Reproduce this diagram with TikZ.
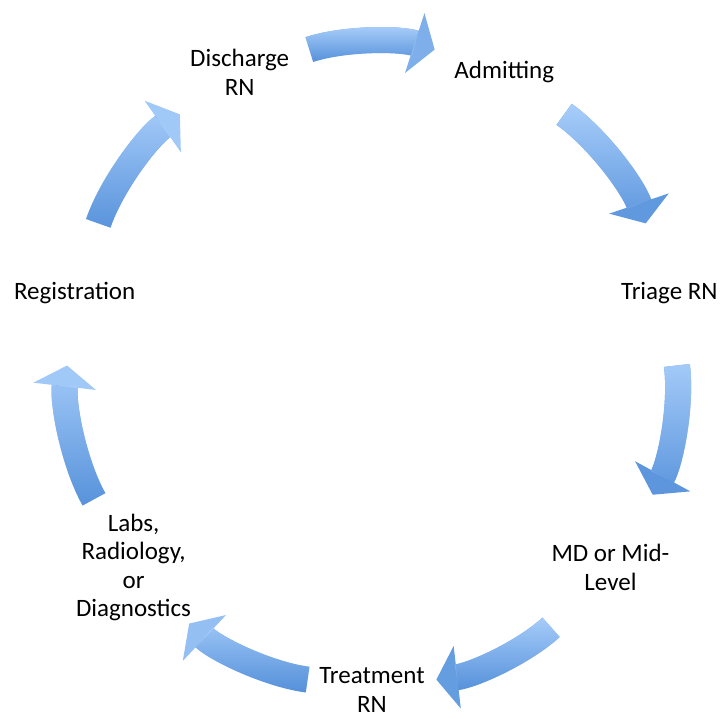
\documentclass[tikz,border=0pt]{standalone}
\usepackage{fontspec}
\setmainfont{Carlito}
\usepackage{tikz}
\usetikzlibrary{arrows.meta,fadings}
\definecolor{flowdark}{RGB}{84,144,218}
\definecolor{flowlight}{RGB}{170,207,251}
\tikzfading[name=fadedown,top color=transparent!0,bottom color=transparent!100]
\tikzset{
	stage/.style={
		% The shape:
		circle,minimum size=146pt,inner sep=0pt,
		% The text:
		align=center,font=\fontsize{25}{28.5}\selectfont,
	}}
\tikzset{
	flow/.style={
		% The line:
		line width=26pt,draw=flowdark,
		% The head, in the shade it sits in:
		-{Triangle[length=21pt,width=62pt,color=flowlight!#1!flowdark]},
		% light at the top of the shaft:
		postaction={draw=flowlight,path fading=fadedown,arrows=-,shorten >=20.5pt},
		% The bend, along the cycle:
		bend left=18,looseness=0.75,
	},
	flow/.default=50}
\begin{document}
\begin{tikzpicture}[x=1pt,y=1pt]
	\useasboundingbox (-372,-354) rectangle (354,365);
	% the stages, clockwise on an ellipse
	\node[stage] (dis) at (115.71:305 and 325) {Discharge\\RN};
	\node[stage] (adm) at (64.29:305 and 325) {Admitting};
	\node[stage] (tri) at (12.86:305 and 325) {Triage RN};
	\node[stage,minimum size=168pt] (md) at (-38.57:305 and 325) {MD or Mid-\\Level};
	\node[stage,minimum size=130pt] (trt) at (-90:305 and 325) {Treatment\\RN};
	\node[stage] (labs) at (218.57:305 and 325) {Labs,\\Radiology,\\or\\Diagnostics};
	\node[stage] (reg) at (167.14:305 and 325) {Registration};
	% the arrows
	\draw[flow=50] (dis) to (adm);
	\draw[flow=15] (adm) to (tri);
	\draw[flow=10] (tri) to (md);
	\draw[flow=20] (md) to (trt);
	\draw[flow=75] (trt) to (labs);
	\draw[flow=90] (labs) to (reg);
	\draw[flow=90] (reg) to (dis);
\end{tikzpicture}
\end{document}
